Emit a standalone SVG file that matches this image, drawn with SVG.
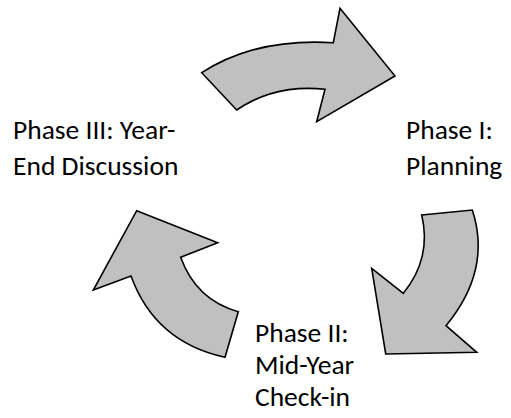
<svg xmlns="http://www.w3.org/2000/svg" width="511" height="418" viewBox="0 0 511 418">
<style>
.arr{fill:#c0c0c0;stroke:#000;stroke-width:1.6;stroke-linejoin:miter}
.lbl{font-family:Carlito,"Open Sans",sans-serif;font-size:27.5px;fill:#000}
</style>
<rect width="511" height="418" fill="#fff"/>
<g id="connectors">
<path id="arrow-top" class="arr" d="M201.7,72.7 Q255,38 333.3,42.7 L340,8.3 L395,76 L316.7,121.7 L325,89.3 Q275,84 236.7,110 Z"/>
<path id="arrow-right" class="arr" d="M421.7,215 L472.3,210 Q492,270 446,325.7 L476.7,352.3 L385.7,354 L371.7,268.3 L403.3,293.3 Q432,258 421.7,215 Z"/>
<path id="arrow-left" class="arr" d="M238.3,311.7 Q196,300 180.7,257.3 L217.7,242.7 L136.7,210.7 L93.3,290 L131,276 Q155,342 225,357.3 Z"/>
</g>
<g id="node-phase1"><text class="lbl" x="406" y="139">Phase I:</text><text class="lbl" x="406" y="175">Planning</text></g>
<g id="node-phase2"><text class="lbl" x="255" y="342">Phase II:</text><text class="lbl" x="255" y="374">Mid-Year</text><text class="lbl" x="255" y="406">Check-in</text></g>
<g id="node-phase3"><text class="lbl" x="13" y="139">Phase III: Year-</text><text class="lbl" x="13" y="175">End Discussion</text></g>
</svg>
